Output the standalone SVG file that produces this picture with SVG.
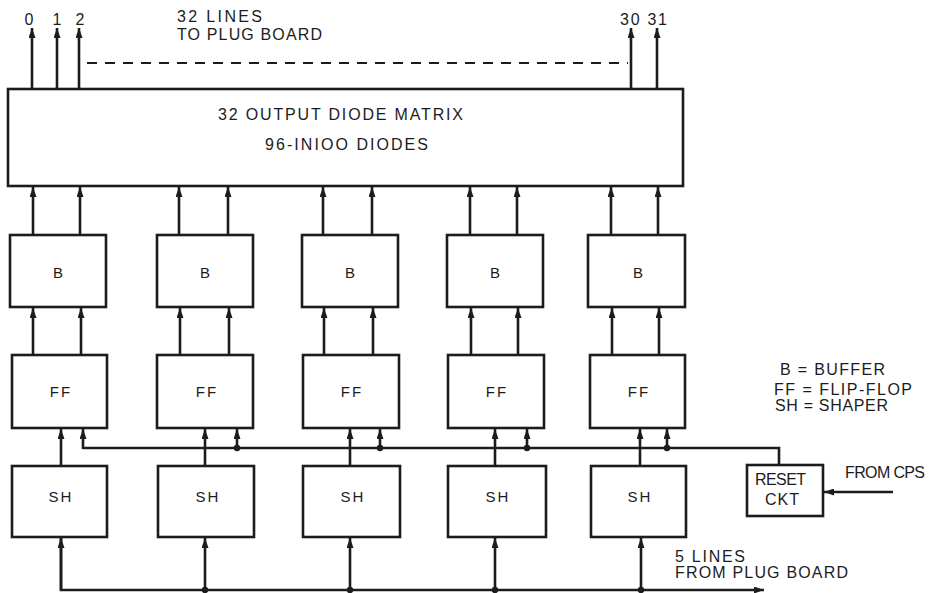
<svg xmlns="http://www.w3.org/2000/svg" width="930" height="593" viewBox="0 0 930 593">
<defs>
<marker id="ah" viewBox="0 0 10 7" refX="10" refY="3.5" markerWidth="10" markerHeight="7" markerUnits="userSpaceOnUse" orient="auto">
<path d="M0,0 L10,3.5 L0,7 z" fill="#1c1c1c"/>
</marker>
<style>
.box{fill:#fff;stroke:#1c1c1c;stroke-width:2.6}
.ln{fill:none;stroke:#1c1c1c;stroke-width:2.6}
.ar{fill:none;stroke:#1c1c1c;stroke-width:2.6;marker-end:url(#ah)}
.dash{fill:none;stroke:#1c1c1c;stroke-width:2;stroke-dasharray:10 8}
.t{font-family:"Liberation Sans",Arial,sans-serif;font-size:16px;fill:#1c1c1c}
.n{font-family:"Liberation Sans",Arial,sans-serif;font-size:15px;fill:#1c1c1c;letter-spacing:2px;text-anchor:middle}
.c{text-anchor:middle}
.dot{fill:#1c1c1c}
</style>
</defs>
<rect width="930" height="593" fill="#fff"/>

<g id="connectors">
<!-- outputs -->
<line class="ar" x1="32" y1="89" x2="32" y2="28"/>
<line class="ar" x1="57" y1="89" x2="57" y2="28"/>
<line class="ar" x1="79" y1="89" x2="79" y2="28"/>
<line class="ar" x1="631" y1="89" x2="631" y2="28"/>
<line class="ar" x1="657" y1="89" x2="657" y2="28"/>
<line class="dash" x1="87" y1="63" x2="628" y2="63"/>
<!-- B to matrix -->
<line class="ar" x1="33" y1="235" x2="33" y2="187"/>
<line class="ar" x1="80" y1="235" x2="80" y2="187"/>
<line class="ar" x1="179" y1="235" x2="179" y2="187"/>
<line class="ar" x1="228" y1="235" x2="228" y2="187"/>
<line class="ar" x1="323" y1="235" x2="323" y2="187"/>
<line class="ar" x1="372" y1="235" x2="372" y2="187"/>
<line class="ar" x1="470" y1="235" x2="470" y2="187"/>
<line class="ar" x1="517" y1="235" x2="517" y2="187"/>
<line class="ar" x1="611" y1="235" x2="611" y2="187"/>
<line class="ar" x1="658" y1="235" x2="658" y2="187"/>
<!-- FF to B -->
<line class="ar" x1="33" y1="355" x2="33" y2="308"/>
<line class="ar" x1="81" y1="355" x2="81" y2="308"/>
<line class="ar" x1="180" y1="355" x2="180" y2="308"/>
<line class="ar" x1="229" y1="355" x2="229" y2="308"/>
<line class="ar" x1="324" y1="355" x2="324" y2="308"/>
<line class="ar" x1="373" y1="355" x2="373" y2="308"/>
<line class="ar" x1="471" y1="355" x2="471" y2="308"/>
<line class="ar" x1="518" y1="355" x2="518" y2="308"/>
<line class="ar" x1="612" y1="355" x2="612" y2="308"/>
<line class="ar" x1="659" y1="355" x2="659" y2="308"/>
<!-- SH to FF -->
<line class="ar" x1="61" y1="466" x2="61" y2="429"/>
<line class="ar" x1="205" y1="466" x2="205" y2="429"/>
<line class="ar" x1="350" y1="466" x2="350" y2="429"/>
<line class="ar" x1="495" y1="466" x2="495" y2="429"/>
<line class="ar" x1="640" y1="466" x2="640" y2="429"/>
<!-- reset line -->
<polyline class="ln" points="83,448 779,448 779,465"/>
<line class="ar" x1="83" y1="449" x2="83" y2="429"/>
<line class="ar" x1="237" y1="448" x2="237" y2="429"/>
<line class="ar" x1="380" y1="448" x2="380" y2="429"/>
<line class="ar" x1="527" y1="448" x2="527" y2="429"/>
<line class="ar" x1="667" y1="448" x2="667" y2="429"/>
<circle class="dot" cx="237" cy="448" r="3.2"/>
<circle class="dot" cx="380" cy="448" r="3.2"/>
<circle class="dot" cx="527" cy="448" r="3.2"/>
<circle class="dot" cx="667" cy="448" r="3.2"/>
<!-- from CPS -->
<line class="ar" x1="893" y1="492" x2="824" y2="492"/>
<!-- bus -->
<polyline class="ar" points="61,538 61,590 764,590"/>
<line class="ar" x1="61" y1="590" x2="61" y2="538"/>
<line class="ar" x1="205" y1="590" x2="205" y2="538"/>
<line class="ar" x1="350" y1="590" x2="350" y2="538"/>
<line class="ar" x1="495" y1="590" x2="495" y2="538"/>
<line class="ar" x1="641" y1="590" x2="641" y2="538"/>
<circle class="dot" cx="205" cy="590" r="3.2"/>
<circle class="dot" cx="350" cy="590" r="3.2"/>
<circle class="dot" cx="495" cy="590" r="3.2"/>
<circle class="dot" cx="641" cy="590" r="3.2"/>
</g>

<g id="labels">
<text class="t c" x="29" y="25">0</text>
<text class="t c" x="57" y="25">1</text>
<text class="t c" x="80" y="25">2</text>
<text class="t" x="620" y="25" textLength="47" lengthAdjust="spacing">30 31</text>
<text class="t" x="177" y="22" textLength="85" lengthAdjust="spacing">32 LINES</text>
<text class="t" x="177" y="40" textLength="145" lengthAdjust="spacing">TO PLUG BOARD</text>
<text class="t" x="780" y="375" textLength="105" lengthAdjust="spacing">B  = BUFFER</text>
<text class="t" x="774" y="395" textLength="138" lengthAdjust="spacing">FF = FLIP-FLOP</text>
<text class="t" x="775" y="411" textLength="113" lengthAdjust="spacing">SH = SHAPER</text>
<text class="t" x="845" y="478" textLength="80" lengthAdjust="spacing">FROM CPS</text>
<text class="t" x="675" y="562" textLength="70" lengthAdjust="spacing">5 LINES</text>
<text class="t" x="675" y="578" textLength="173" lengthAdjust="spacing">FROM PLUG BOARD</text>
</g>

<g id="matrix">
<rect class="box" x="8" y="89" width="675" height="97"/>
<text class="t" x="218" y="120" textLength="245" lengthAdjust="spacing">32 OUTPUT DIODE MATRIX</text>
<text class="t" x="265" y="150" textLength="163" lengthAdjust="spacing">96-INIOO DIODES</text>
</g>

<g id="b1"><rect class="box" x="10" y="235" width="96" height="72"/><text class="n" x="59" y="278">B</text></g>
<g id="b2"><rect class="box" x="157" y="235" width="96" height="72"/><text class="n" x="206" y="278">B</text></g>
<g id="b3"><rect class="box" x="302" y="235" width="96" height="72"/><text class="n" x="351" y="278">B</text></g>
<g id="b4"><rect class="box" x="447" y="235" width="96" height="72"/><text class="n" x="496" y="278">B</text></g>
<g id="b5"><rect class="box" x="588" y="235" width="97" height="72"/><text class="n" x="639" y="278">B</text></g>

<g id="ff1"><rect class="box" x="12" y="355" width="95" height="73"/><text class="n" x="61" y="397">FF</text></g>
<g id="ff2"><rect class="box" x="157" y="355" width="96" height="73"/><text class="n" x="207" y="397">FF</text></g>
<g id="ff3"><rect class="box" x="303" y="355" width="96" height="73"/><text class="n" x="352" y="397">FF</text></g>
<g id="ff4"><rect class="box" x="448" y="355" width="96" height="73"/><text class="n" x="497" y="397">FF</text></g>
<g id="ff5"><rect class="box" x="590" y="355" width="95" height="73"/><text class="n" x="639" y="397">FF</text></g>

<g id="sh1"><rect class="box" x="12" y="466" width="95" height="71"/><text class="n" x="61" y="502">SH</text></g>
<g id="sh2"><rect class="box" x="158" y="466" width="96" height="71"/><text class="n" x="208" y="502">SH</text></g>
<g id="sh3"><rect class="box" x="303" y="466" width="97" height="71"/><text class="n" x="353" y="502">SH</text></g>
<g id="sh4"><rect class="box" x="448" y="466" width="98" height="71"/><text class="n" x="498" y="502">SH</text></g>
<g id="sh5"><rect class="box" x="591" y="466" width="95" height="71"/><text class="n" x="640" y="502">SH</text></g>

<g id="reset"><rect class="box" x="747" y="465" width="76" height="51"/><text class="t" x="755" y="485" textLength="51" lengthAdjust="spacing">RESET</text><text class="t" x="765" y="505" textLength="34" lengthAdjust="spacing">CKT</text></g>
</svg>
